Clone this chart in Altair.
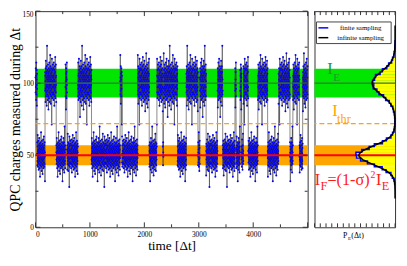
import altair as alt
import pandas as pd

# ---- telegraph trace: state segments ----
SEG_START = [0, 30, 176, 382, 550, 580, 780, 1030, 1555, 1590, 1880, 2090, 2230, 2340, 2352,
             2610, 2770, 2985, 3020, 3135, 3345, 3440, 3665, 3685, 3760, 3785, 3820, 3910,
             4085, 4265, 4465, 4675, 4730, 4850, 4910]
SEG_LEVEL = [100, 50, 100, 50, 100, 50, 100, 50, 100, 50, 100, 50, 100, 50, 100,
             50, 100, 50, 100, 50, 100, 50, 100, 50, 100, 50, 100, 50,
             100, 50, 100, 50, 100, 50, 100]
# scatter of the charges around the level (hand-read pattern)
NOISE = [3, -5, 8, -2, 0, -9, 4, 11, -6, 2, -1, 7, -12, 5, -3, 1, 9, -7, -4, 6, 14, -2, -8, 3, 0,
         -5, 10, -1, 4, -10, 2, 7, -3, -6, 12, 1, -4, 5, -9, 8, -2, 3, -15, 6, 0, -7, 9, 2, -1, -5,
         4, 16, -8, -3, 7, 1, -11, 5, -2, 10, -6, 3, 0, -4, 8, -13, 2, 6, -1, -7, 11, -3, 4, -9, 1,
         5, -5, 13, -2, 0, 7, -8, 3, -6, 9, -1, 2, -18, 6, -4, 4, 1, -10, 8, -3, 12, -7, 0, 5, -2,
         -5, 9, 3, -12, 6, -1, 20, -6, 2, -4, 7, 0, -9, 4, -2, 10, -7, 1, 5, -14, 3, 8, -3, 6, -8,
         2, -1, 11, -5, 0, 4, -10, 7, -2, 1, 15, -6, 3, -4, 9, -11, 5, -1, 2, -7, 8, -3, 0, 6, -22,
         4, 13, -5, 1, -8, 7, -2, 3, -6, 10, 1]
T_STEP = 2
T_MAX = 5000

# ---- right panel: distributions ----
CURVE_Y = [20, 25, 29, 31, 33, 35, 37, 39, 41, 43, 45, 47, 49, 50, 51, 53, 55, 57, 59, 61,
           63, 65, 67, 69, 71, 73, 75, 77, 79, 81, 83, 85, 87, 89, 91, 93, 95, 97, 99, 100,
           101, 103, 105, 107, 109, 111, 113, 115, 117, 119, 121, 123, 125, 127, 130, 140]
CURVE_P = [0, 0.0005, 0.002, 0.0038, 0.0092, 0.0202, 0.040, 0.072, 0.117, 0.173,
           0.232, 0.282, 0.311, 0.315, 0.311, 0.282, 0.232, 0.173, 0.117, 0.072,
           0.040, 0.020, 0.009, 0.004, 0.0015, 0.0009, 0.0015, 0.0032, 0.0064, 0.012,
           0.021, 0.034, 0.053, 0.078, 0.106, 0.136, 0.165, 0.186, 0.198, 0.200,
           0.198, 0.186, 0.165, 0.136, 0.106, 0.078, 0.053, 0.034, 0.021, 0.012,
           0.0064, 0.0032, 0.0015, 0.0007, 0.0001, 0]
HIST_LO = list(range(30, 130, 2))
HIST_P = [0.004, 0.008, 0.024, 0.036, 0.078, 0.112, 0.18, 0.24, 0.30, 0.335,
          0.34, 0.29, 0.225, 0.18, 0.11, 0.075, 0.036, 0.022, 0.01, 0.006,
          0.002, 0.002, 0.001, 0.004, 0.006, 0.014, 0.019, 0.036, 0.05, 0.082,
          0.10, 0.14, 0.158, 0.19, 0.185, 0.195, 0.178, 0.17, 0.13, 0.11,
          0.072, 0.056, 0.03, 0.022, 0.01, 0.008, 0.003, 0.002, 0.001, 0.0]
HIST_W = 2

BAND_E = (90, 110)
BAND_F = (43, 57)
I_E, I_THR, I_F = 100, 72, 50

X_LABELS = [0, 1000, 2000, 3000, 4000]
X_MAJOR = [0, 1000, 2000, 3000, 4000, 5000]
X_MINOR = [500, 1500, 2500, 3500, 4500]
Y_LABELS = [0, 50, 100]
Y_TOP_LABEL = [150]
Y_MAJOR = [0, 50, 100, 150]
Y_MINOR = [25, 75, 125]
P_MAX = 0.7
P_TICKS = [round(0.05 * i, 2) for i in range(15)]
LEGEND_NAMES = ["finite sampling", "infinite sampling"]

FONT = "Liberation Serif"
W, H, W2 = 277, 220, 82
GREEN_BAND = "#00e600"
ORANGE_BAND = "#ffa500"
GREEN_LINE = "#2e7d32"
GREEN_TXT = "#229922"
ORANGE = "#ffa500"
RED = "#ff1a1a"
TICK = "#333"
U = alt.Undefined


# pixel -> data helpers for decorations
def TX(px): return px * T_MAX / W          # main panel x
def PX(px): return P_MAX - px * P_MAX / W2  # right panel x (reversed)
def VY(py): return 150 - py * 150 / H      # shared y


# ---- build tables ----
rows = []
for i, t in enumerate(range(0, T_MAX, T_STEP)):
    s = max(j for j, st in enumerate(SEG_START) if st <= t)
    lvl = SEG_LEVEL[s]
    d = NOISE[i % len(NOISE)]
    rows.append({"t": t, "v": lvl + d * (1.3 if lvl == 100 else 1.0)})
trace = pd.DataFrame(rows)

hist_rows = [{"y": HIST_LO[0], "p": 0, "o": 0}]
k = 1
for lo, p in zip(HIST_LO, HIST_P):
    hist_rows.append({"y": lo, "p": p, "o": k}); k += 1
    hist_rows.append({"y": lo + HIST_W, "p": p, "o": k}); k += 1
hist_rows.append({"y": HIST_LO[-1] + HIST_W, "p": 0, "o": k})
hist = pd.DataFrame(hist_rows)
bins = pd.DataFrame({"lo": HIST_LO, "hi": [v + HIST_W for v in HIST_LO], "p": HIST_P,
                     "z": [0] * len(HIST_LO)})
curve = pd.DataFrame({"y": CURVE_Y, "p": CURVE_P, "o": list(range(len(CURVE_Y)))})

ysc = alt.Scale(domain=[0, 150], nice=False, zero=False)
xsc = alt.Scale(domain=[0, T_MAX], nice=False, zero=False)
psc = alt.Scale(domain=[0, P_MAX], nice=False, zero=False, reverse=True)


def band_layers(width, ax):
    out = []
    for (lo, hi), col in ((BAND_E, GREEN_BAND), (BAND_F, ORANGE_BAND)):
        out.append(alt.Chart(pd.DataFrame({"lo": [lo], "hi": [hi]})).mark_rect(color=col).encode(
            y=alt.Y("lo:Q", scale=ysc, axis=ax), y2="hi:Q", x=alt.value(0), x2=alt.value(width)))
    return out


def hlines(ax):
    g = alt.Chart(pd.DataFrame({"y": [I_E]})).mark_rule(color=GREEN_LINE, strokeWidth=1.3).encode(
        y=alt.Y("y:Q", scale=ysc, axis=ax))
    r = alt.Chart(pd.DataFrame({"y": [I_F]})).mark_rule(color="#ff0000", strokeWidth=2).encode(
        y=alt.Y("y:Q", scale=ysc, axis=ax))
    o = alt.Chart(pd.DataFrame({"y": [I_THR]})).mark_rule(color=ORANGE, strokeWidth=1.2, strokeDash=[5, 3]).encode(
        y=alt.Y("y:Q", scale=ysc, axis=ax))
    return [g, o, r]


def vticks(vals, length_px, sc, ax):
    ln = length_px * 150 / H
    df = pd.DataFrame({"v": vals + vals,
                       "a": [0] * len(vals) + [150] * len(vals),
                       "b": [ln] * len(vals) + [150 - ln] * len(vals)})
    return alt.Chart(df).mark_rule(color=TICK, strokeWidth=1).encode(
        x=alt.X("v:Q", scale=sc, axis=ax), y=alt.Y("a:Q", scale=ysc, axis=ax), y2="b:Q")


def hticks(vals, length_px):
    ln = TX(length_px)
    df = pd.DataFrame({"v": vals + vals,
                       "a": [0] * len(vals) + [T_MAX] * len(vals),
                       "b": [ln] * len(vals) + [T_MAX - ln] * len(vals)})
    return alt.Chart(df).mark_rule(color=TICK, strokeWidth=1).encode(
        y=alt.Y("v:Q", scale=ysc), x=alt.X("a:Q", scale=xsc), x2="b:Q")


line = alt.Chart(trace).mark_line(color="#3a3a3a", strokeWidth=0.6).encode(
    x=alt.X("t:Q", scale=xsc, axis=alt.Axis(
        values=X_LABELS, format="d", ticks=False, domain=False, grid=False, labelFont=FONT,
        labelFontSize=7.5, labelPadding=3, labelColor="black", title="time [Δt]",
        titleFont=FONT, titleFontSize=13.5, titleFontWeight="normal", titlePadding=1,
        titleColor="black")),
    y=alt.Y("v:Q", scale=ysc, axis=alt.Axis(
        values=Y_LABELS, format="d", ticks=False, domain=False, grid=False, labelFont=FONT,
        labelFontSize=7.5, labelPadding=2, labelColor="black",
        title="QPC charges measured during Δt", titleFont=FONT, titleFontSize=14,
        titleFontWeight="normal", titlePadding=0, titleColor="black")))
pts = alt.Chart(trace).mark_circle(color="#0000ff", size=4, opacity=1).encode(
    x=alt.X("t:Q", scale=xsc), y=alt.Y("v:Q", scale=ysc))
top_lab = alt.Chart(pd.DataFrame({"v": Y_TOP_LABEL, "x": [TX(-2)]})).mark_text(
    align="right", baseline="top", font=FONT, fontSize=7.5, color="black").encode(
    x=alt.X("x:Q", scale=xsc), y=alt.Y("v:Q", scale=ysc), text=alt.Text("v:Q"))

main = alt.layer(
    *band_layers(W, U), line, pts, *hlines(U),
    vticks(X_MAJOR, 5, xsc, U), vticks(X_MINOR, 3, xsc, U),
    hticks(Y_MAJOR, 5), hticks(Y_MINOR, 3), top_lab,
).properties(width=W, height=H)

# ---- right panel (no axes on any layer) ----
fill = alt.Chart(bins).mark_rect(color="#ffff00").encode(
    y=alt.Y("lo:Q", scale=ysc, axis=None), y2="hi:Q",
    x=alt.X("p:Q", scale=psc, axis=None), x2="z:Q")
hist_line = alt.Chart(hist).mark_line(strokeWidth=1.5, color="#0000ff").encode(
    y=alt.Y("y:Q", scale=ysc, axis=None), x=alt.X("p:Q", scale=psc, axis=None), order="o:Q")
curve_line = alt.Chart(curve).mark_line(strokeWidth=1.5, color="#000000").encode(
    y=alt.Y("y:Q", scale=ysc, axis=None), x=alt.X("p:Q", scale=psc, axis=None), order="o:Q")

leg_box = alt.Chart(pd.DataFrame({"x": [PX(2)], "x2": [PX(78)], "y": [VY(11)], "y2": [VY(33)]})).mark_rect(
    fill="white", stroke="#444", strokeWidth=1).encode(
    x=alt.X("x:Q", scale=psc, axis=None), x2="x2:Q", y=alt.Y("y:Q", scale=ysc, axis=None), y2="y2:Q")
leg_items = []
for i, (name, col) in enumerate(zip(LEGEND_NAMES, ["#0000ff", "#000000"])):
    yy = VY(17 + 10 * i)
    leg_items.append(alt.Chart(pd.DataFrame({"x": [PX(4)], "x2": [PX(14)], "y": [yy]})).mark_rule(
        color=col, strokeWidth=1.5).encode(
        x=alt.X("x:Q", scale=psc, axis=None), x2="x2:Q", y=alt.Y("y:Q", scale=ysc, axis=None)))
    leg_items.append(alt.Chart(pd.DataFrame({"s": [name], "x": [PX(47)], "y": [yy]})).mark_text(
        align="center", baseline="middle", font=FONT, fontSize=7, color="black").encode(
        x=alt.X("x:Q", scale=psc, axis=None), y=alt.Y("y:Q", scale=ysc, axis=None), text="s:N"))

ANN = [
    ("I", 13, 106.6, 16.5, GREEN_TXT), ("E", 19, 101.5, 11.5, GREEN_TXT),
    ("I", 18, 77, 16.5, ORANGE), ("thr", 23, 72.7, 12.5, ORANGE),
    ("I", 0.3, 29, 16.5, RED), ("F", 6.2, 26, 12.5, RED), ("=(1-σ)", 13.2, 29, 16.5, RED),
    ("2", 57, 34, 10, RED), ("I", 62.5, 29, 16.5, RED), ("E", 68.5, 26, 12.5, RED),
]
PLAB = [("P", 29, 8, 0), ("E", 34, 5, 1.5), ("(Δt)", 37.5, 8, 0)]
ann_layers = []
for txt, px, yv, sz, col in ANN + [(t, px, VY(H + 11 + dy), sz, "black") for t, px, sz, dy in PLAB]:
    ann_layers.append(alt.Chart(pd.DataFrame({"s": [txt], "x": [PX(px)], "y": [yv]})).mark_text(
        align="left", baseline="alphabetic", font=FONT, fontSize=sz, color=col).encode(
        x=alt.X("x:Q", scale=psc, axis=None), y=alt.Y("y:Q", scale=ysc, axis=None), text="s:N"))

right = alt.layer(
    *band_layers(W2, None), fill, *hlines(None), hist_line, curve_line,
    vticks(P_TICKS, 4, psc, None), leg_box, *leg_items, *ann_layers,
).properties(width=W2, height=H)

chart = alt.hconcat(main, right, spacing=3).properties(
    padding={"left": 0, "top": 0, "right": 0, "bottom": 0}
).configure_view(stroke="#333", strokeWidth=1)

chart.save("out.html", embed_options={"renderer": "svg", "actions": False})
